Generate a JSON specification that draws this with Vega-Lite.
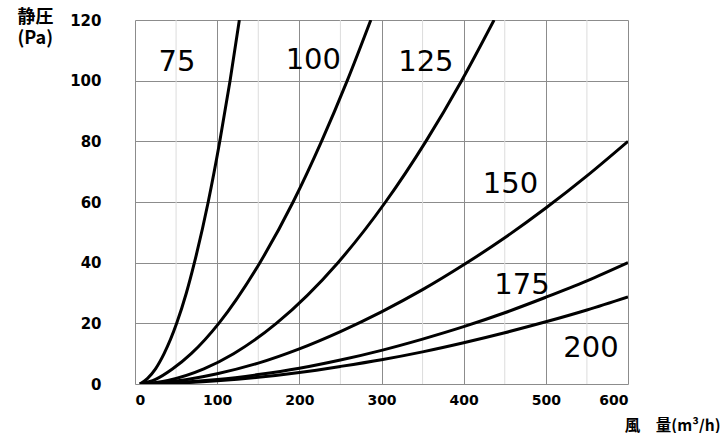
{
  "$schema": "https://vega.github.io/schema/vega-lite/v6.json",
  "width": 493,
  "height": 364,
  "autosize": "none",
  "padding": {"left": 135, "top": 20, "right": 96, "bottom": 49},
  "background": "white",
  "config": {"view": {"stroke": null}},
  "datasets": {
    "minor": [{"q": 50}, {"q": 150}, {"q": 250}, {"q": 350}, {"q": 450}, {"q": 550}],
    "curves": [
      {"series": "75", "q": 6, "p": 0}, {"series": "75", "q": 15, "p": 1.8}, {"series": "75", "q": 25, "p": 5}, {"series": "75", "q": 35.4, "p": 10}, {"series": "75", "q": 50.7, "p": 20}, {"series": "75", "q": 62.5, "p": 30}, {"series": "75", "q": 72.3, "p": 40}, {"series": "75", "q": 89.1, "p": 60}, {"series": "75", "q": 103.2, "p": 80}, {"series": "75", "q": 115.7, "p": 100}, {"series": "75", "q": 127, "p": 120},
      {"series": "100", "q": 6, "p": 0}, {"series": "100", "q": 25, "p": 1.5}, {"series": "100", "q": 45.9, "p": 5}, {"series": "100", "q": 68.4, "p": 10}, {"series": "100", "q": 102, "p": 20}, {"series": "100", "q": 152, "p": 40}, {"series": "100", "q": 192.4, "p": 60}, {"series": "100", "q": 227, "p": 80}, {"series": "100", "q": 258.3, "p": 100}, {"series": "100", "q": 287, "p": 120},
      {"series": "125", "q": 6, "p": 0}, {"series": "125", "q": 40, "p": 1.2}, {"series": "125", "q": 83.8, "p": 5}, {"series": "125", "q": 120, "p": 10}, {"series": "125", "q": 172, "p": 20}, {"series": "125", "q": 247, "p": 40}, {"series": "125", "q": 304.9, "p": 60}, {"series": "125", "q": 354, "p": 80}, {"series": "125", "q": 397.5, "p": 100}, {"series": "125", "q": 437, "p": 120},
      {"series": "150", "q": 6, "p": 0}, {"series": "150", "q": 50, "p": 1}, {"series": "150", "q": 100, "p": 3.4}, {"series": "150", "q": 150, "p": 6.9}, {"series": "150", "q": 200, "p": 11.6}, {"series": "150", "q": 250, "p": 17.3}, {"series": "150", "q": 300, "p": 23.8}, {"series": "150", "q": 350, "p": 31.1}, {"series": "150", "q": 400, "p": 39.3}, {"series": "150", "q": 450, "p": 48.2}, {"series": "150", "q": 500, "p": 58}, {"series": "150", "q": 550, "p": 68.6}, {"series": "150", "q": 600, "p": 80},
      {"series": "175", "q": 6, "p": 0}, {"series": "175", "q": 50, "p": 0.4}, {"series": "175", "q": 100, "p": 1.45}, {"series": "175", "q": 150, "p": 3.1}, {"series": "175", "q": 200, "p": 5.2}, {"series": "175", "q": 250, "p": 7.9}, {"series": "175", "q": 300, "p": 11.1}, {"series": "175", "q": 350, "p": 14.8}, {"series": "175", "q": 400, "p": 18.9}, {"series": "175", "q": 450, "p": 23.5}, {"series": "175", "q": 500, "p": 28.6}, {"series": "175", "q": 550, "p": 34}, {"series": "175", "q": 600, "p": 40},
      {"series": "200", "q": 6, "p": 0}, {"series": "200", "q": 50, "p": 0.3}, {"series": "200", "q": 100, "p": 1.06}, {"series": "200", "q": 150, "p": 2.2}, {"series": "200", "q": 200, "p": 3.8}, {"series": "200", "q": 250, "p": 5.8}, {"series": "200", "q": 300, "p": 8}, {"series": "200", "q": 350, "p": 10.6}, {"series": "200", "q": 400, "p": 13.6}, {"series": "200", "q": 450, "p": 16.9}, {"series": "200", "q": 500, "p": 20.5}, {"series": "200", "q": 550, "p": 24.4}, {"series": "200", "q": 600, "p": 28.7}
    ],
    "labels": [
      {"series": "75", "q": 51, "p": 106}, {"series": "100", "q": 217, "p": 106.7}, {"series": "125", "q": 354, "p": 106.2},
      {"series": "150", "q": 457, "p": 65.9}, {"series": "175", "q": 471, "p": 32.8}, {"series": "200", "q": 555, "p": 12}
    ]
  },
  "layer": [
    {
      "data": {"name": "minor"},
      "mark": {"type": "rule", "color": "#dcdcdc", "strokeWidth": 1},
      "encoding": {"x": {"field": "q", "type": "quantitative"}}
    },
    {
      "data": {"name": "curves"},
      "mark": {"type": "line", "interpolate": "monotone", "color": "black", "clip": true},
      "encoding": {
        "x": {
          "field": "q", "type": "quantitative",
          "scale": {"domain": [0, 600], "nice": false, "zero": true},
          "axis": {
            "values": [0, 100, 200, 300, 400, 500, 600],
            "grid": true, "gridColor": "#8c8c8c", "gridWidth": 1,
            "domain": false, "ticks": false,
            "labelFont": "DejaVu Sans", "labelFontWeight": "bold", "labelFontSize": 14, "labelColor": "black", "labelPadding": 9,
            "title": "風　量(m³/h)", "titleFont": "Noto Sans CJK JP", "titleFontSize": 15.5, "titleFontWeight": "bold", "titleColor": "black",
            "titleAlign": "right", "titleBaseline": "middle", "titleX": 585, "titleY": 41
          }
        },
        "y": {
          "field": "p", "type": "quantitative",
          "scale": {"domain": [0, 120], "nice": false},
          "axis": {
            "values": [0, 20, 40, 60, 80, 100, 120],
            "grid": true, "gridColor": "#8c8c8c", "gridWidth": 1,
            "domain": false, "ticks": false,
            "labelFont": "DejaVu Sans", "labelFontWeight": "bold", "labelFontSize": 15, "labelColor": "black", "labelPadding": 34,
            "title": ["静圧", "(Pa)"], "titleFont": "Noto Sans CJK JP", "titleFontSize": 18, "titleFontWeight": "bold", "titleColor": "black",
            "titleAngle": 0, "titleAlign": "left", "titleBaseline": "top", "titleLineHeight": 21, "titleX": -118, "titleY": -12
          }
        },
        "detail": {"field": "series"},
        "strokeWidth": {
          "field": "series", "type": "nominal",
          "scale": {"domain": ["75", "100", "125", "150", "175", "200"], "range": [3, 3, 2.4, 2.4, 2, 2]},
          "legend": null
        }
      }
    },
    {
      "data": {"name": "labels"},
      "mark": {"type": "text", "font": "DejaVu Sans", "fontSize": 29, "align": "center", "baseline": "middle", "color": "black"},
      "encoding": {
        "x": {"field": "q", "type": "quantitative"},
        "y": {"field": "p", "type": "quantitative"},
        "text": {"field": "series"}
      }
    }
  ]
}
